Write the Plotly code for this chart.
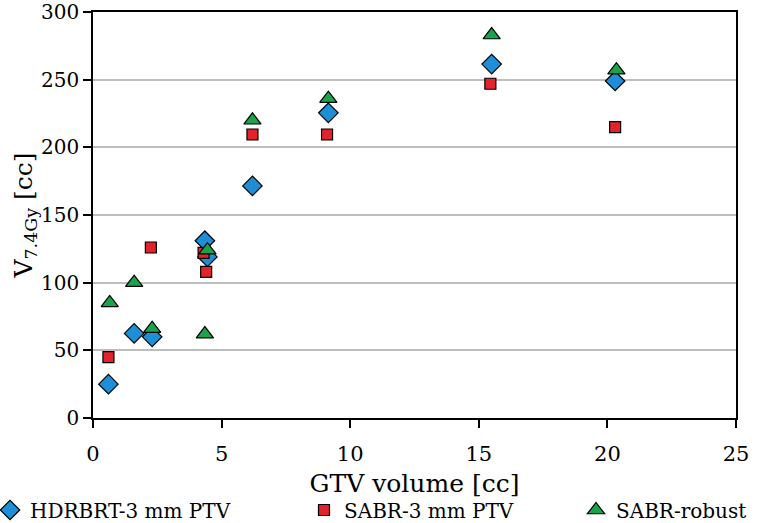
import plotly.graph_objects as go

# Data
hdr_x = [0.6, 1.6, 2.3, 4.35, 4.45, 6.2, 9.15, 15.5, 20.3]
hdr_y = [25, 62.5, 60, 131, 119, 171.5, 225.5, 261.5, 249]

sabr_x = [0.6, 2.25, 4.3, 4.4, 6.2, 9.1, 15.45, 20.3]
sabr_y = [45, 126, 122, 108, 209.5, 209.5, 247, 215]

rob_x = [0.65, 1.6, 2.3, 4.35, 4.45, 6.2, 9.15, 15.5, 20.35]
rob_y = [85, 100, 66, 62, 124, 220, 236, 283, 257]

names = ["HDRBRT-3 mm PTV", "SABR-3 mm PTV", "SABR-robust"]
colors = ["#1E8FD6", "#E3232B", "#1AA34A"]

x_ticks = [0, 5, 10, 15, 20, 25]
y_ticks = [0, 50, 100, 150, 200, 250, 300]

FONT = "DejaVu Serif"

fig = go.Figure()
fig.add_trace(go.Scatter(x=hdr_x, y=hdr_y, mode="markers", name=names[0], legend="legend",
                         marker=dict(symbol="diamond", size=15, color=colors[0],
                                     line=dict(color="black", width=1.2))))
fig.add_trace(go.Scatter(x=sabr_x, y=sabr_y, mode="markers", name=names[1], legend="legend2",
                         marker=dict(symbol="square", size=11, color=colors[1],
                                     line=dict(color="black", width=1.2))))
fig.add_trace(go.Scatter(x=rob_x, y=rob_y, mode="markers", name=names[2], legend="legend3",
                         marker=dict(symbol="triangle-up", size=15, color=colors[2],
                                     line=dict(color="black", width=1.2))))

W0, PW, PH, TOP = 93, 643, 406, 12
BOTTOM_PX = TOP + PH

def leg(px_left):
    return dict(orientation="h", x=(px_left - W0) / PW, xanchor="left",
                y=(BOTTOM_PX - 510) / PH, yanchor="middle",
                font=dict(family=FONT, size=20), itemwidth=30,
                bgcolor="rgba(0,0,0,0)", borderwidth=0)

fig.update_layout(
    width=760, height=523,
    margin=dict(l=93, r=24, t=TOP, b=523 - BOTTOM_PX, autoexpand=False),
    plot_bgcolor="white", paper_bgcolor="white",
    font=dict(family=FONT, size=21, color="black"),
    showlegend=True,
    legend=leg(-10),
    legend2=leg(304),
    legend3=leg(576),
)
fig.update_xaxes(range=[0, 25], tickvals=x_ticks, showgrid=False, zeroline=False,
                 showline=True, linecolor="black", linewidth=1.5, mirror=True,
                 ticks="outside", ticklen=8, tickcolor="black", tickwidth=1.5,
                 automargin=False, ticklabeloverflow="allow", ticklabelstandoff=8,
                 title=dict(text="GTV volume [cc]", standoff=10),
                 tickfont=dict(size=21))
fig.update_yaxes(range=[0, 300], tickvals=y_ticks, showgrid=True, gridcolor="#BDBDBD",
                 gridwidth=1.5, zeroline=False,
                 showline=True, linecolor="black", linewidth=1.5, mirror=True,
                 ticks="outside", ticklen=8, tickcolor="black", tickwidth=1.5,
                 automargin=False, ticklabeloverflow="allow",
                 title=dict(text="V<sub>7.4Gy</sub> [cc]", standoff=0),
                 tickfont=dict(size=20))

fig.write_html("out.html", config={"displayModeBar": False},
               post_script="document.body.style.margin='0';document.body.style.overflow='hidden';")
